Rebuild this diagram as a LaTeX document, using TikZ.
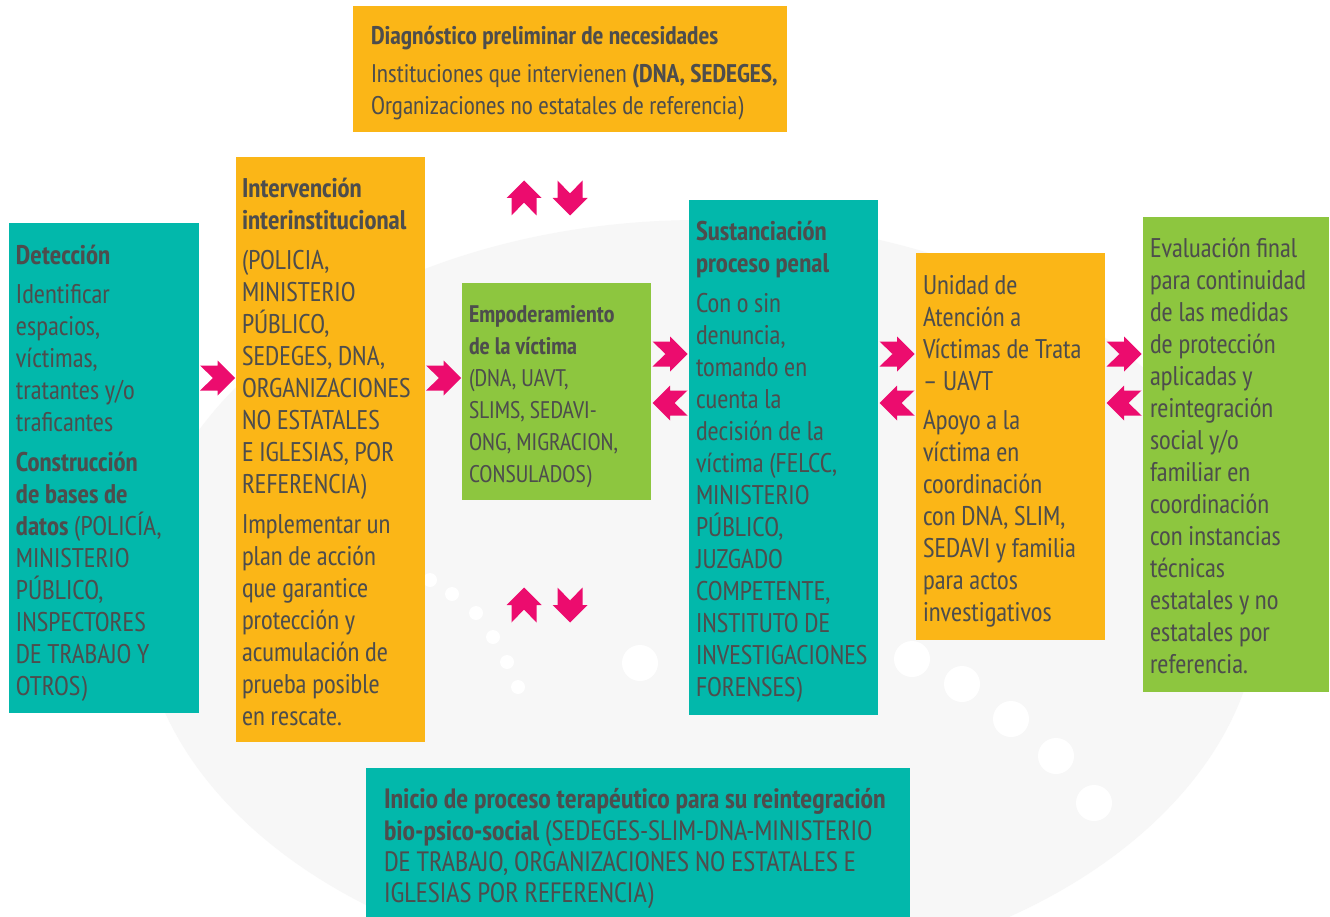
\documentclass[tikz,border=0pt]{standalone}
\usepackage{fontspec}
\setmainfont{PT Sans Narrow}
\usetikzlibrary{calc}
\definecolor{cteal}{HTML}{02B8AB}
\definecolor{corange}{HTML}{FBB617}
\definecolor{cgreen}{HTML}{8DC63F}
\definecolor{cmag}{HTML}{EC0C6E}
\definecolor{ctext}{HTML}{4D4D4D}
\definecolor{cbg}{HTML}{F7F7F7}
\tikzset{
  box/.style={draw=none, inner sep=0pt, outer sep=0pt, anchor=north west},
  txt/.style={anchor=north west, inner sep=0pt, outer sep=0pt, align=left, text=ctext, font=\fontsize{27}{32}\selectfont},
  smalltxt/.style={txt, font=\fontsize{24}{32}\selectfont},
  pics/rarr/.style={code={\fill[cmag] (17.5,0) -- (0,17.5) -- (0,12.5) -- (-17.5,12.5) -- (-4.5,0) -- (-17.5,-12.5) -- (0,-12.5) -- (0,-17.5) -- cycle;}},
  pics/uarr/.style={code={\fill[cmag] (0,-17.5) -- (17.5,0) -- (12.5,0) -- (12.5,17.5) -- (0,4.5) -- (-12.5,17.5) -- (-12.5,0) -- (-17.5,0) -- cycle;}},
}
\begin{document}
\begin{tikzpicture}[x=1pt,y=-1pt]
\useasboundingbox (0,0) rectangle (1330,917);
\fill[white] (0,0) rectangle (1330,917);
% faint background decoration
\begin{scope}
\clip (0,0) rectangle (1330,917);
\fill[cbg] (700,600) ellipse [x radius=560, y radius=380];
\fill[white] (1130,917) .. controls (1120,880) and (1180,840) .. (1330,790) -- (1330,917) -- cycle;
\foreach \p in {(430,580),(452,594),(476,613),(493,637),(507,662),(518,687)}
  \fill[white] \p circle (7);
\foreach \p in {(640,663),(912,659),(962,684),(1011,719),(1056,756),(1094,803)}
  \fill[white] \p circle (18);
\end{scope}

% boxes
\node[box, fill=corange, minimum width=434, minimum height=126] (diag) at (353,6) {};
\node[box, fill=cteal,   minimum width=190, minimum height=490] (det)  at (9,223) {};
\node[box, fill=corange, minimum width=189, minimum height=585] (int)  at (236,157) {};
\node[box, fill=cgreen,  minimum width=189, minimum height=217] (emp)  at (462,283) {};
\node[box, fill=cteal,   minimum width=189, minimum height=515] (sus)  at (689,200) {};
\node[box, fill=corange, minimum width=189, minimum height=387] (uavt) at (916,253) {};
\node[box, fill=cgreen,  minimum width=186, minimum height=475] (eva)  at (1143,217) {};
\node[box, fill=cteal,   minimum width=544, minimum height=149] (ini)  at (366,768) {};

% texts
\node[txt, font=\fontsize{25.5}{32}\selectfont] (diagT) at (371,22) {\strut\textbf{Diagnóstico preliminar de necesidades}\\[6pt]
Instituciones que intervienen \textbf{(DNA, SEDEGES,}\\
Organizaciones no estatales de referencia)};

\node[txt] (detT) at (16,242) {\strut\textbf{Detección}\\[7pt]
Identificar\\ espacios,\\ víctimas,\\ tratantes y/o\\ traficantes\\[8pt]
\textbf{Construcción}\\ \textbf{de bases de}\\ \textbf{datos} (POLICÍA,\\ MINISTERIO\\ PÚBLICO,\\ INSPECTORES\\ DE TRABAJO Y\\ OTROS)};

\node[txt] (intT) at (242,175) {\strut\textbf{Intervención}\\ \textbf{interinstitucional}\\[8pt]
(POLICIA,\\ MINISTERIO\\ PÚBLICO,\\ SEDEGES, DNA,\\ ORGANIZACIONES\\ NO ESTATALES\\ E IGLESIAS, POR\\ REFERENCIA)\\[8pt]
Implementar un\\ plan de acción\\ que garantice\\ protección y\\ acumulación de\\ prueba posible\\ en rescate.};

\node[smalltxt] (empT) at (469,300) {\strut\textbf{Empoderamiento}\\ \textbf{de la víctima}\\
(DNA, UAVT,\\ SLIMS, SEDAVI-\\ ONG, MIGRACION,\\ CONSULADOS)};

\node[txt] (susT) at (696,218) {\strut\textbf{Sustanciación}\\ \textbf{proceso penal}\\[8pt]
Con o sin\\ denuncia,\\ tomando en\\ cuenta la\\ decisión de la\\ víctima (FELCC,\\ MINISTERIO\\ PÚBLICO,\\ JUZGADO\\ COMPETENTE,\\ INSTITUTO DE\\ INVESTIGACIONES\\ FORENSES)};

\node[txt] (uavtT) at (923,272) {\strut Unidad de\\ Atención a\\ Víctimas de Trata\\ – UAVT\\[7pt]
Apoyo a la\\ víctima en\\ coordinación\\ con DNA, SLIM,\\ SEDAVI y familia\\ para actos\\ investigativos};

\node[txt] (evaT) at (1150,235) {\strut Evaluación final\\ para continuidad\\ de las medidas\\ de protección\\ aplicadas y\\ reintegración\\ social y/o\\ familiar en\\ coordinación\\ con instancias\\ técnicas\\ estatales y no\\ estatales por\\ referencia.};

\node[txt, font=\fontsize{28}{31.3}\selectfont] (iniT) at (384,787) {\strut\textbf{Inicio de proceso terapéutico para su reintegración}\\
\textbf{bio-psico-social} (SEDEGES-SLIM-DNA-MINISTERIO\\
DE TRABAJO, ORGANIZACIONES NO ESTATALES E\\
IGLESIAS POR REFERENCIA)};

% arrows between boxes
\coordinate (yA) at (0,378);
\coordinate (yR) at (0,354);
\coordinate (yL) at (0,403);
\path ($(det.east)!0.5!(int.west)$) coordinate (m1);
\path ($(int.east)!0.5!(emp.west)$) coordinate (m2);
\path ($(emp.east)!0.5!(sus.west)$) coordinate (m3);
\path ($(sus.east)!0.5!(uavt.west)$) coordinate (m4);
\path ($(uavt.east)!0.5!(eva.west)$) coordinate (m5);
\pic at (m1 |- yA) {rarr};
\pic at (m2 |- yA) {rarr};
\pic at (m3 |- yR) {rarr};
\pic[xscale=-1] at (m3 |- yL) {rarr};
\pic at (m4 |- yR) {rarr};
\pic[xscale=-1] at (m4 |- yL) {rarr};
\pic at (m5 |- yR) {rarr};
\pic[xscale=-1] at (m5 |- yL) {rarr};
\pic at (524,198) {uarr};
\pic[yscale=-1] at (570,198) {uarr};
\pic at (524,605) {uarr};
\pic[yscale=-1] at (570,605) {uarr};
\end{tikzpicture}
\end{document}
